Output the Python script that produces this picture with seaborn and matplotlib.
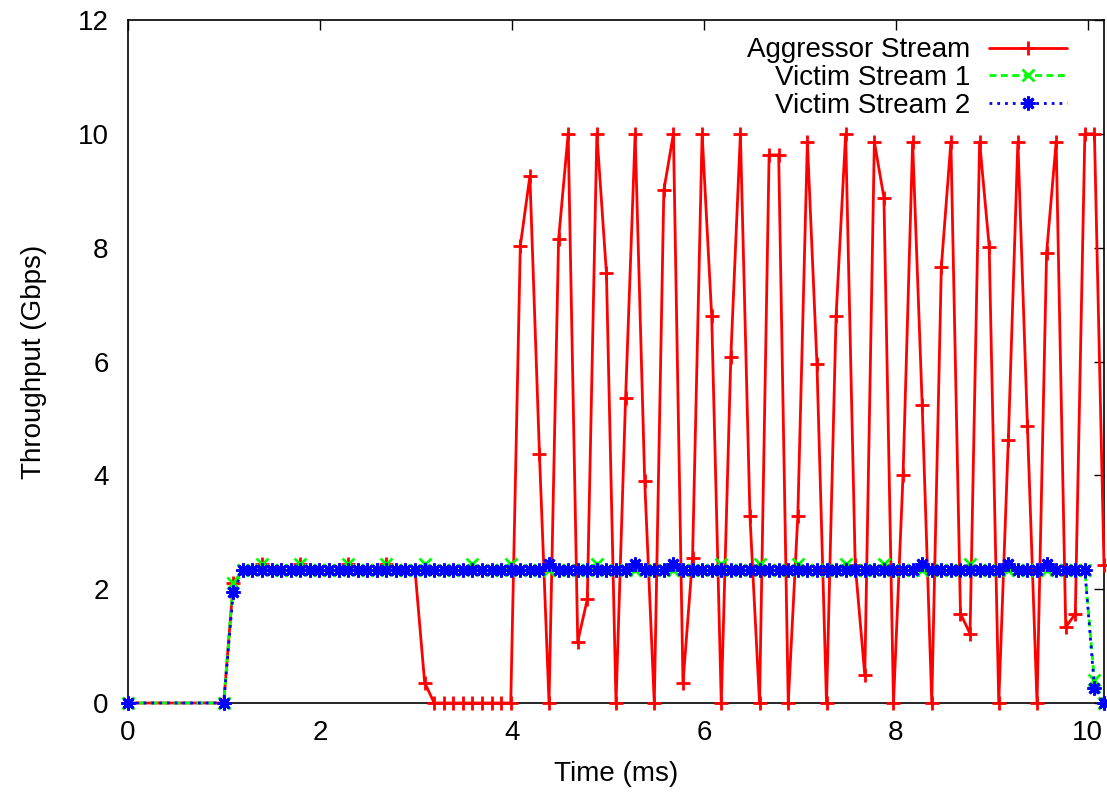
import numpy as np
import pandas as pd
import matplotlib
matplotlib.use("Agg")
import matplotlib.pyplot as plt
import seaborn as sns

# Sampling grid: first sample at t=0, then one sample every SAMPLE_MS from index 10
SAMPLE_MS = 0.0997
sample_idx = [0] + list(range(10, 103))

# Throughput (Gbps) per sample; first entry is t=0, then indices 10..102
aggressor = [0.0,
    0.00, 2.10, 2.33, 2.33, 2.45, 2.33, 2.33, 2.33, 2.45, 2.33,
    2.33, 2.33, 2.33, 2.45, 2.33, 2.33, 2.33, 2.45, 2.33, 2.33,
    2.33, 0.36, 0.00, 0.00, 0.00, 0.00, 0.00, 0.00, 0.00, 0.00,
    0.00, 8.03, 9.26, 4.37, 0.00, 8.15, 10.0, 1.08, 1.82, 10.0,
    7.55, 0.00, 5.35, 10.0, 3.90, 0.00, 9.01, 10.0, 0.35, 2.55,
    10.0, 6.80, 0.00, 6.08, 10.0, 3.28, 0.00, 9.63, 9.63, 0.00,
    3.28, 9.86, 5.96, 0.00, 6.80, 10.0, 2.43, 0.49, 9.86, 8.88,
    0.00, 4.01, 9.86, 5.23, 0.00, 7.66, 9.86, 1.57, 1.22, 9.86,
    8.02, 0.00, 4.62, 9.86, 4.86, 0.00, 7.91, 9.86, 1.33, 1.57,
    10.0, 10.0, 2.43]

victim1 = [0.0,
    0.00, 2.10, 2.33, 2.33, 2.45, 2.33, 2.33, 2.33, 2.45, 2.33,
    2.33, 2.33, 2.33, 2.45, 2.33, 2.33, 2.33, 2.45, 2.33, 2.33,
    2.33, 2.45, 2.33, 2.33, 2.33, 2.33, 2.45, 2.33, 2.33, 2.33,
    2.45, 2.33, 2.33, 2.33, 2.33, 2.33, 2.33, 2.33, 2.33, 2.45,
    2.33, 2.33, 2.33, 2.33, 2.33, 2.33, 2.33, 2.33, 2.33, 2.33,
    2.33, 2.33, 2.45, 2.33, 2.33, 2.33, 2.45, 2.33, 2.33, 2.33,
    2.45, 2.33, 2.33, 2.33, 2.33, 2.45, 2.33, 2.33, 2.33, 2.45,
    2.33, 2.33, 2.33, 2.33, 2.33, 2.33, 2.33, 2.33, 2.45, 2.33,
    2.33, 2.33, 2.33, 2.33, 2.33, 2.33, 2.33, 2.33, 2.33, 2.33,
    2.33, 0.40, 0.00]

victim2 = [0.0,
    0.00, 1.95, 2.33, 2.33, 2.33, 2.33, 2.33, 2.33, 2.33, 2.33,
    2.33, 2.33, 2.33, 2.33, 2.33, 2.33, 2.33, 2.33, 2.33, 2.33,
    2.33, 2.33, 2.33, 2.33, 2.33, 2.33, 2.33, 2.33, 2.33, 2.33,
    2.33, 2.33, 2.33, 2.33, 2.45, 2.33, 2.33, 2.33, 2.33, 2.33,
    2.33, 2.33, 2.33, 2.45, 2.33, 2.33, 2.33, 2.45, 2.33, 2.33,
    2.33, 2.33, 2.33, 2.33, 2.33, 2.33, 2.33, 2.33, 2.33, 2.33,
    2.33, 2.33, 2.33, 2.33, 2.33, 2.33, 2.33, 2.33, 2.33, 2.33,
    2.33, 2.33, 2.33, 2.45, 2.33, 2.33, 2.33, 2.33, 2.33, 2.33,
    2.33, 2.33, 2.45, 2.33, 2.33, 2.33, 2.45, 2.33, 2.33, 2.33,
    2.33, 0.27, 0.00]

series_names = ["Aggressor Stream", "Victim Stream 1", "Victim Stream 2"]
x_ticks = [0, 2, 4, 6, 8, 10]
y_ticks = [0, 2, 4, 6, 8, 10, 12]

time_ms = np.array(sample_idx) * SAMPLE_MS

sns.set_theme(style="white")
plt.rcParams["font.family"] = ["Liberation Sans", "DejaVu Sans"]
plt.rcParams["text.color"] = "black"
plt.rcParams["axes.labelcolor"] = "black"
plt.rcParams["xtick.color"] = "black"
plt.rcParams["ytick.color"] = "black"

FS = 20

fig = plt.figure(figsize=(11.07, 7.95), dpi=100)
ax = fig.add_axes([128 / 1107, 92 / 795, 976 / 1107, 683 / 795])

styles = [
    dict(color="#ff0000", marker="+", markersize=10, linestyle="-"),
    dict(color="#00ff00", marker="x", markersize=8, linestyle=(0, (2.5, 1.6))),
    dict(color="#0000ff", marker=(8, 2, 0), markersize=10, linestyle=(0, (1.0, 1.8))),
]

for name, vals, st in zip(series_names, [aggressor, victim1, victim2], styles):
    df = pd.DataFrame({"time": time_ms, "gbps": vals})
    sns.lineplot(data=df, x="time", y="gbps", ax=ax, estimator=None,
                 sort=False, linewidth=2.0, label=name, clip_on=False,
                 markeredgecolor=st["color"], markerfacecolor=st["color"],
                 markeredgewidth=2.0, **st)

ax.set_xlim(0, time_ms[-1])
ax.set_ylim(0, 12)
ax.set_xticks(x_ticks)
ax.set_yticks(y_ticks)
ax.set_xlabel("Time (ms)", fontsize=FS, labelpad=11)
ax.set_ylabel("Throughput (Gbps)", fontsize=FS, labelpad=22)
ax.tick_params(axis="both", which="major", direction="in", length=7, width=1,
               labelsize=FS, top=True, right=True, color="black",
               labelcolor="black")
ax.tick_params(axis="x", pad=12)
ax.tick_params(axis="y", pad=14)
for sp in ax.spines.values():
    sp.set_color("black")
    sp.set_linewidth(1.2)
    sp.set_zorder(1)

leg = ax.legend(loc="upper right", bbox_to_anchor=(0.978, 0.997), frameon=False,
                markerfirst=False, fontsize=FS, handlelength=2.8,
                handletextpad=0.7, labelspacing=0.06, borderaxespad=0.15)
for t in leg.get_texts():
    t.set_color("black")

fig.savefig("out.png", dpi=100)
